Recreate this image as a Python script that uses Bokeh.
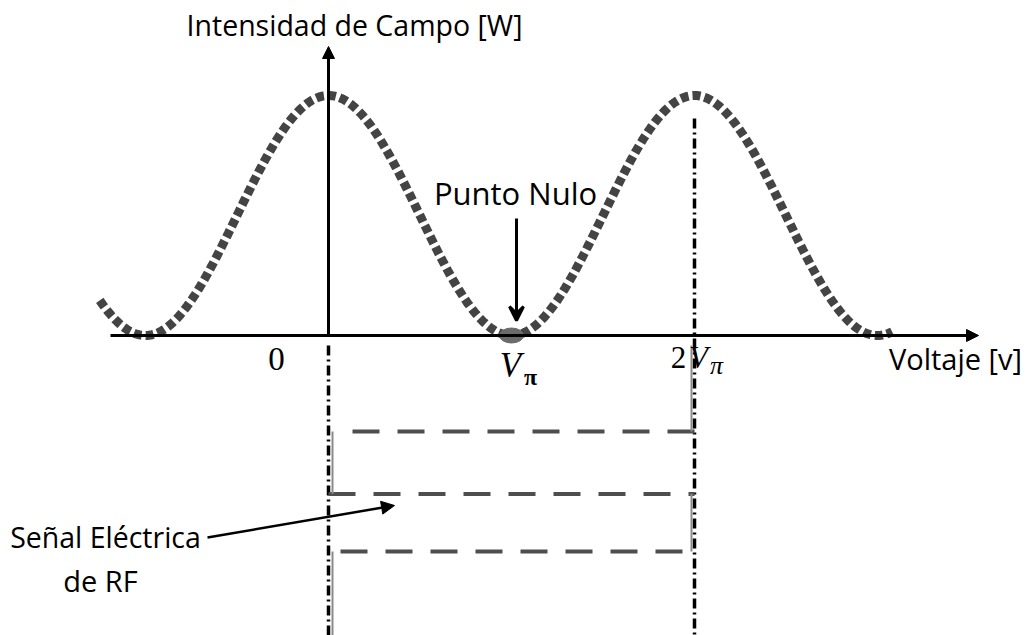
import numpy as np
from bokeh.plotting import figure
from bokeh.models import Range1d, Label, Arrow, NormalHead, VeeHead
from bokeh.embed import file_html
from bokeh.resources import INLINE

# Transfer curve of the modulator: I(V) = I_max * cos^2(pi V / (2 V_pi)), V in units of V_pi
V_PI = 1.0
I_MAX = 1.0
v_start, v_end = -1.25, 3.08
null_point = 1.0            # V_pi, null of the transfer curve
bias_lines = [0.0, 2.0]      # 0 and 2 V_pi
rf_levels = [-0.40, -0.66, -0.90]   # RF drive levels (drawn below the voltage axis)

v = np.linspace(v_start, v_end, 500)
intensity = I_MAX * np.cos(np.pi * v / (2 * V_PI)) ** 2

# pixel-to-data helpers for placing annotations
def X(px):
    return (px - 328) / 183.0

def Y(py):
    return (335 - py) / 240.0

W, H = 1026, 635
p = figure(width=W, height=H, output_backend="svg", toolbar_location=None,
           x_range=Range1d(X(0), X(W)), y_range=Range1d(Y(H), Y(0)),
           x_axis_location=None, y_axis_location=None, min_border=0)
p.grid.visible = False
p.outline_line_color = None
p.background_fill_color = "white"
p.border_fill_color = "white"

CURVE = "#444444"
GREY = "#4e4e4e"
THIN = "#8a8a8a"

# dash-dot guides at 0 and 2 V_pi
p.line([bias_lines[0], bias_lines[0]], [Y(345), Y(H)], line_color="black",
       line_width=3.5, line_dash="10 4 2 4")
p.line([bias_lines[1], bias_lines[1]], [Y(118), Y(H)], line_color="black",
       line_width=3.5, line_dash="10 4 2 4")

# RF square-wave drive signal
p.line([X(352), bias_lines[1]], [rf_levels[0], rf_levels[0]], line_color=GREY,
       line_width=4, line_dash="27 18")
p.line([X(328), bias_lines[1]], [rf_levels[1], rf_levels[1]], line_color=GREY,
       line_width=4, line_dash="27 18")
p.line([X(340), bias_lines[1]], [rf_levels[2], rf_levels[2]], line_color=GREY,
       line_width=4, line_dash="27 18")
p.line([X(332), X(332)], [rf_levels[0], rf_levels[1]], line_color=THIN, line_width=2)
p.line([X(332), X(332)], [rf_levels[2], Y(H)], line_color=THIN, line_width=2)
p.line([X(691), X(691)], [Y(345), rf_levels[0]], line_color=THIN, line_width=2)
p.line([X(691), X(691)], [rf_levels[1], rf_levels[2]], line_color=THIN, line_width=2)

# transfer curve (square dotted)
p.line(v, intensity, line_color=CURVE, line_width=9, line_dash="8 4", line_cap="butt")

# axes with arrows
p.add_layout(Arrow(x_start=X(110), y_start=0, x_end=X(978), y_end=0,
                   line_color="black", line_width=3,
                   end=NormalHead(size=12, fill_color="black", line_color="black")))
p.add_layout(Arrow(x_start=0, y_start=0, x_end=0, y_end=Y(46),
                   line_color="black", line_width=3,
                   end=NormalHead(size=12, fill_color="black", line_color="black")))

# null point marker
p.ellipse(x=[null_point], y=[0], width=24 / 183.0, height=15 / 240.0,
          fill_color="#6b6b6b", line_color="#6b6b6b")

# arrow to null point
p.add_layout(Arrow(x_start=X(516), y_start=Y(218), x_end=X(516), y_end=Y(320),
                   line_color="black", line_width=3,
                   end=VeeHead(size=14, line_color="black", line_width=3)))

# arrow from RF label
p.add_layout(Arrow(x_start=X(207), y_start=Y(537), x_end=X(394), y_end=Y(505),
                   line_color="black", line_width=2.5,
                   end=NormalHead(size=13, fill_color="black", line_color="black")))

SANS = "Open Sans"
SERIF = "Liberation Serif"

def label(x, y, text, size, font=SANS, style="normal", align="center"):
    p.add_layout(Label(x=x, y=y, text=text, text_font=font, text_font_size=f"{size}px",
                       text_font_style=style, text_align=align, text_baseline="middle",
                       text_color="black"))

label(X(354), Y(24), "Intensidad de Campo [W]", 28.5)
label(X(515), Y(192), "Punto Nulo", 31)
label(X(955), Y(358), "Voltaje [v]", 29)
label(X(105), Y(536), "Señal Eléctrica", 28.5)
label(X(100), Y(580), "de RF", 29)

# voltage-axis tick labels
label(X(276), Y(358), "0", 33, font=SERIF)
label(X(510), Y(365), "V", 35, font=SERIF, style="italic")
label(X(530), Y(376), "π", 24, font=SERIF, style="bold")
label(X(678), Y(357), "2", 31, font=SERIF)
label(X(698), Y(357), "V", 31, font=SERIF, style="italic")
label(X(716), Y(365), "π", 26, font=SERIF, style="italic")

open("out.html", "w").write(file_html(p, INLINE))
